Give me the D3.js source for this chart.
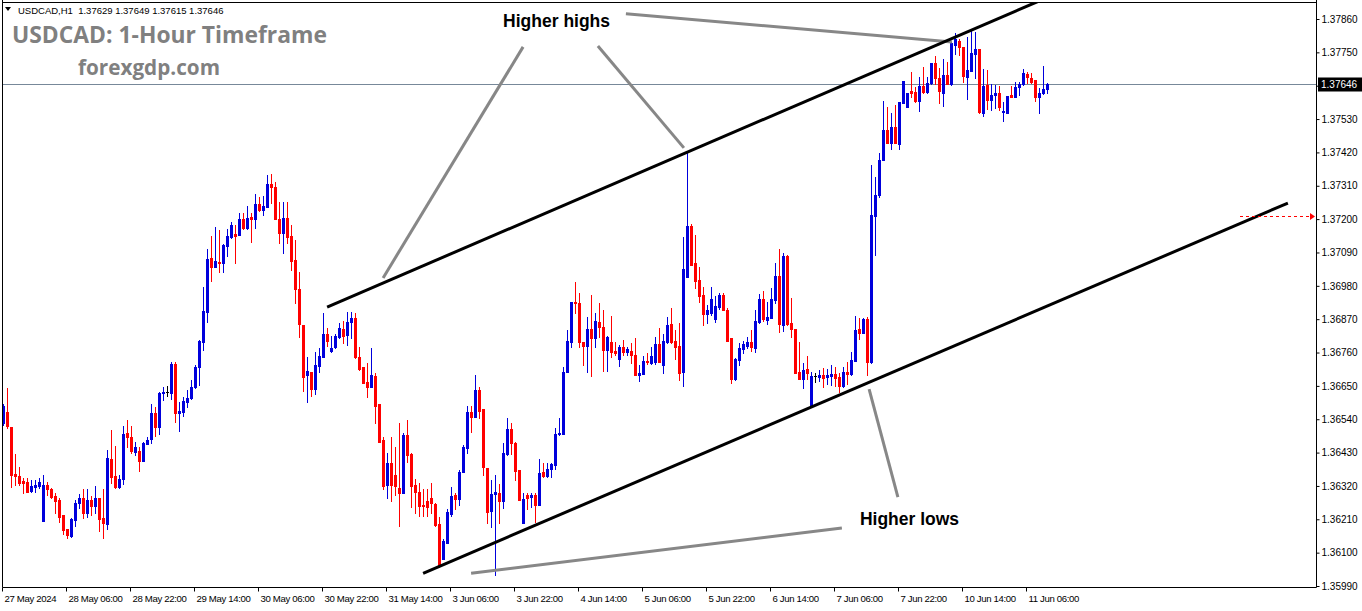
<!DOCTYPE html>
<html><head><meta charset="utf-8">
<script src="https://cdn.jsdelivr.net/npm/d3@7"></script>
<style>body{margin:0;background:#fff}svg{display:block}</style>
</head><body>
<svg id="c" width="1362" height="611"></svg>
<script>
// ---- DATA (hourly bars, USDCAD H1) ----
const opens = [1.36527,1.36563,1.36514,1.36359,1.36352,1.36336,1.36332,1.36303,1.36316,1.36319,1.36204,1.36323,1.36309,1.36286,1.36273,1.36224,1.36177,1.36154,1.36207,1.36263,1.36280,1.36230,1.36273,1.36253,1.36280,1.36214,1.36194,1.36408,1.36352,1.36316,1.36342,1.36494,1.36481,1.36431,1.36435,1.36402,1.36458,1.36474,1.36560,1.36514,1.36626,1.36629,1.36626,1.36722,1.36560,1.36563,1.36596,1.36610,1.36646,1.36712,1.36794,1.36893,1.37072,1.37042,1.37058,1.37055,1.37111,1.37141,1.37151,1.37147,1.37200,1.37171,1.37207,1.37200,1.37250,1.37230,1.37240,1.37316,1.37306,1.37200,1.37154,1.37204,1.37144,1.37065,1.36969,1.36851,1.36686,1.36695,1.36639,1.36715,1.36745,1.36821,1.36765,1.36778,1.36811,1.36837,1.36817,1.36860,1.36874,1.36745,1.36712,1.36662,1.36646,1.36682,1.36590,1.36471,1.36323,1.36395,1.36356,1.36313,1.36296,1.36487,1.36425,1.36323,1.36299,1.36256,1.36270,1.36280,1.36260,1.36194,1.36078,1.36131,1.36227,1.36290,1.36276,1.36365,1.36445,1.36563,1.36547,1.36636,1.36573,1.36379,1.36237,1.36293,1.36296,1.36270,1.36425,1.36507,1.36461,1.36372,1.36197,1.36290,1.36283,1.36290,1.36256,1.36365,1.36352,1.36375,1.36388,1.36491,1.36491,1.36695,1.36794,1.36926,1.36923,1.36794,1.36781,1.36837,1.36808,1.36860,1.36844,1.36768,1.36794,1.36765,1.36738,1.36778,1.36761,1.36765,1.36752,1.36686,1.36689,1.36732,1.36725,1.36728,1.36788,1.36718,1.36794,1.36854,1.36798,1.36781,1.36695,1.37009,1.37177,1.37055,1.36999,1.36950,1.36887,1.36890,1.36870,1.36910,1.36950,1.36900,1.36808,1.36672,1.36735,1.36771,1.36781,1.36794,1.36775,1.36860,1.36936,1.36867,1.36874,1.36933,1.37012,1.36851,1.37078,1.36857,1.36837,1.36695,1.36672,1.36705,1.36580,1.36682,1.36679,1.36686,1.36679,1.36682,1.36689,1.36679,1.36649,1.36695,1.36689,1.36732,1.36837,1.36824,1.36870,1.36728,1.37210,1.37280,1.37395,1.37494,1.37451,1.37504,1.37448,1.37583,1.37570,1.37623,1.37619,1.37590,1.37639,1.37619,1.37649,1.37715,1.37666,1.37616,1.37676,1.37646,1.37775,1.37788,1.37768,1.37669,1.37689,1.37745,1.37761,1.37550,1.37642,1.37593,1.37610,1.37616,1.37553,1.37550,1.37610,1.37603,1.37636,1.37646,1.37679,1.37666,1.37659,1.37603,1.37616,1.37629];
const highs = [1.36590,1.36643,1.36514,1.36425,1.36382,1.36346,1.36346,1.36339,1.36339,1.36346,1.36356,1.36332,1.36313,1.36296,1.36280,1.36224,1.36177,1.36214,1.36273,1.36293,1.36309,1.36309,1.36286,1.36319,1.36280,1.36309,1.36438,1.36504,1.36451,1.36356,1.36517,1.36537,1.36517,1.36464,1.36448,1.36464,1.36481,1.36590,1.36580,1.36629,1.36646,1.36649,1.36728,1.36728,1.36596,1.36613,1.36636,1.36669,1.36718,1.36801,1.36976,1.37101,1.37144,1.37174,1.37164,1.37118,1.37167,1.37190,1.37180,1.37220,1.37220,1.37243,1.37220,1.37283,1.37273,1.37276,1.37345,1.37349,1.37322,1.37256,1.37256,1.37256,1.37180,1.37131,1.37025,1.36851,1.36745,1.36695,1.36761,1.36775,1.36890,1.36841,1.36814,1.36821,1.36857,1.36864,1.36893,1.36893,1.36890,1.36778,1.36712,1.36725,1.36775,1.36692,1.36590,1.36481,1.36428,1.36481,1.36448,1.36527,1.36494,1.36537,1.36428,1.36342,1.36329,1.36309,1.36309,1.36329,1.36263,1.36217,1.36144,1.36243,1.36316,1.36296,1.36372,1.36455,1.36583,1.36583,1.36686,1.36646,1.36573,1.36379,1.36339,1.36356,1.36326,1.36461,1.36544,1.36527,1.36464,1.36372,1.36296,1.36296,1.36296,1.36296,1.36408,1.36395,1.36395,1.36395,1.36511,1.36544,1.36712,1.36834,1.36926,1.36992,1.36956,1.36794,1.36877,1.36950,1.36890,1.36923,1.36900,1.36814,1.36880,1.36794,1.36784,1.36801,1.36778,1.36791,1.36808,1.36718,1.36748,1.36758,1.36778,1.36811,1.36841,1.36821,1.36877,1.36907,1.36834,1.36857,1.37141,1.37418,1.37184,1.37147,1.37042,1.36976,1.36917,1.36976,1.36946,1.36956,1.36956,1.36907,1.36808,1.36742,1.36791,1.36798,1.36811,1.36834,1.36900,1.36953,1.36963,1.36926,1.36973,1.37055,1.37101,1.37088,1.37082,1.36940,1.36837,1.36794,1.36725,1.36748,1.36695,1.36692,1.36702,1.36709,1.36705,1.36718,1.36712,1.36692,1.36712,1.36728,1.36761,1.36880,1.36874,1.36874,1.36877,1.37379,1.37339,1.37418,1.37590,1.37570,1.37550,1.37577,1.37586,1.37656,1.37616,1.37685,1.37636,1.37669,1.37702,1.37669,1.37715,1.37738,1.37699,1.37728,1.37718,1.37784,1.37814,1.37794,1.37768,1.37801,1.37821,1.37817,1.37761,1.37695,1.37692,1.37646,1.37642,1.37639,1.37586,1.37606,1.37639,1.37652,1.37652,1.37695,1.37685,1.37682,1.37659,1.37633,1.37705,1.37649];
const lows = [1.36521,1.36511,1.36316,1.36323,1.36323,1.36296,1.36299,1.36299,1.36299,1.36313,1.36204,1.36290,1.36280,1.36230,1.36200,1.36161,1.36148,1.36151,1.36187,1.36247,1.36214,1.36217,1.36224,1.36230,1.36171,1.36148,1.36177,1.36329,1.36313,1.36313,1.36326,1.36448,1.36428,1.36421,1.36369,1.36402,1.36458,1.36461,1.36484,1.36491,1.36603,1.36616,1.36606,1.36530,1.36501,1.36550,1.36580,1.36606,1.36643,1.36652,1.36768,1.36860,1.36996,1.37042,1.37025,1.37025,1.37078,1.37138,1.37055,1.37147,1.37167,1.37167,1.37124,1.37171,1.37227,1.37213,1.37240,1.37253,1.37200,1.37121,1.37088,1.37121,1.37032,1.36923,1.36811,1.36633,1.36596,1.36616,1.36623,1.36695,1.36745,1.36781,1.36761,1.36775,1.36808,1.36791,1.36784,1.36808,1.36742,1.36702,1.36659,1.36613,1.36646,1.36527,1.36464,1.36309,1.36280,1.36270,1.36290,1.36187,1.36296,1.36398,1.36250,1.36230,1.36220,1.36220,1.36220,1.36230,1.36187,1.36052,1.36078,1.36131,1.36220,1.36243,1.36256,1.36365,1.36428,1.36497,1.36547,1.36544,1.36356,1.36197,1.36184,1.36025,1.36197,1.36247,1.36421,1.36425,1.36339,1.36273,1.36197,1.36243,1.36250,1.36200,1.36256,1.36349,1.36349,1.36349,1.36375,1.36487,1.36491,1.36695,1.36778,1.36890,1.36778,1.36718,1.36695,1.36682,1.36778,1.36811,1.36699,1.36699,1.36745,1.36752,1.36715,1.36752,1.36752,1.36725,1.36686,1.36666,1.36689,1.36722,1.36722,1.36722,1.36728,1.36692,1.36791,1.36791,1.36738,1.36669,1.36649,1.37009,1.37049,1.36973,1.36926,1.36851,1.36857,1.36884,1.36860,1.36903,1.36900,1.36798,1.36659,1.36669,1.36718,1.36758,1.36775,1.36765,1.36761,1.36857,1.36864,1.36854,1.36874,1.36923,1.36827,1.36831,1.36851,1.36811,1.36692,1.36672,1.36643,1.36672,1.36580,1.36662,1.36666,1.36646,1.36656,1.36652,1.36649,1.36629,1.36646,1.36656,1.36686,1.36732,1.36804,1.36824,1.36686,1.36725,1.37082,1.37273,1.37395,1.37451,1.37431,1.37451,1.37431,1.37583,1.37570,1.37603,1.37586,1.37557,1.37616,1.37616,1.37646,1.37646,1.37583,1.37573,1.37646,1.37642,1.37745,1.37741,1.37652,1.37596,1.37689,1.37666,1.37550,1.37540,1.37563,1.37560,1.37567,1.37560,1.37524,1.37550,1.37603,1.37603,1.37610,1.37642,1.37649,1.37649,1.37590,1.37550,1.37613,1.37615];
const closes = [1.36583,1.36517,1.36356,1.36352,1.36329,1.36329,1.36299,1.36319,1.36323,1.36332,1.36323,1.36309,1.36283,1.36270,1.36217,1.36174,1.36158,1.36210,1.36263,1.36280,1.36230,1.36273,1.36253,1.36280,1.36210,1.36197,1.36412,1.36349,1.36316,1.36342,1.36491,1.36481,1.36435,1.36448,1.36402,1.36461,1.36471,1.36560,1.36514,1.36626,1.36629,1.36629,1.36722,1.36560,1.36567,1.36600,1.36610,1.36646,1.36712,1.36798,1.36897,1.37068,1.37042,1.37062,1.37055,1.37115,1.37144,1.37180,1.37144,1.37200,1.37171,1.37204,1.37200,1.37250,1.37230,1.37243,1.37316,1.37306,1.37200,1.37154,1.37204,1.37141,1.37062,1.36969,1.36854,1.36679,1.36699,1.36639,1.36718,1.36748,1.36821,1.36798,1.36775,1.36814,1.36841,1.36814,1.36860,1.36874,1.36745,1.36705,1.36659,1.36646,1.36686,1.36583,1.36464,1.36319,1.36395,1.36323,1.36319,1.36296,1.36487,1.36421,1.36319,1.36299,1.36253,1.36253,1.36250,1.36263,1.36190,1.36055,1.36138,1.36233,1.36286,1.36276,1.36365,1.36448,1.36563,1.36547,1.36636,1.36567,1.36382,1.36233,1.36293,1.36299,1.36270,1.36428,1.36507,1.36461,1.36369,1.36273,1.36276,1.36280,1.36290,1.36256,1.36362,1.36352,1.36375,1.36392,1.36491,1.36494,1.36695,1.36798,1.36926,1.36923,1.36794,1.36781,1.36837,1.36808,1.36864,1.36844,1.36768,1.36811,1.36761,1.36758,1.36778,1.36761,1.36771,1.36752,1.36686,1.36692,1.36732,1.36728,1.36748,1.36788,1.36728,1.36798,1.36851,1.36794,1.36778,1.36692,1.37035,1.37177,1.37049,1.36996,1.36946,1.36887,1.36900,1.36936,1.36913,1.36950,1.36900,1.36798,1.36672,1.36738,1.36775,1.36788,1.36794,1.36778,1.36864,1.36936,1.36870,1.36877,1.36936,1.37012,1.36854,1.37078,1.36854,1.36837,1.36692,1.36672,1.36702,1.36692,1.36682,1.36682,1.36686,1.36676,1.36686,1.36689,1.36676,1.36649,1.36695,1.36689,1.36735,1.36834,1.36824,1.36870,1.36728,1.37213,1.37280,1.37395,1.37494,1.37451,1.37504,1.37451,1.37586,1.37656,1.37616,1.37616,1.37590,1.37639,1.37619,1.37649,1.37715,1.37666,1.37623,1.37676,1.37646,1.37781,1.37794,1.37768,1.37672,1.37692,1.37748,1.37761,1.37553,1.37639,1.37593,1.37610,1.37616,1.37570,1.37557,1.37606,1.37603,1.37636,1.37646,1.37682,1.37669,1.37652,1.37603,1.37616,1.37629,1.37646];

const timeLabels = ["27 May 2024","28 May 06:00","28 May 22:00","29 May 14:00","30 May 06:00","30 May 22:00","31 May 14:00","3 Jun 06:00","3 Jun 22:00","4 Jun 14:00","5 Jun 06:00","5 Jun 22:00","6 Jun 14:00","7 Jun 06:00","7 Jun 22:00","10 Jun 14:00","11 Jun 06:00"];
const timeLabelBars = [0,16,32,48,64,80,96,112,128,144,160,176,192,208,224,240,256];
const priceTicks = [1.35990,1.36100,1.36210,1.36320,1.36430,1.36540,1.36650,1.36760,1.36870,1.36980,1.37090,1.37200,1.37310,1.37420,1.37530,1.37640,1.37750,1.37860];
const priceLabels = ["1.35990","1.36100","1.36210","1.36320","1.36430","1.36540","1.36650","1.36760","1.36870","1.36980","1.37090","1.37200","1.37310","1.37420","1.37530","","1.37750","1.37860"];
const lastBar = {o:1.37629,h:1.37649,l:1.37615,c:1.37646};
const lastPrice = 1.37646;
const alertPrice = 1.37210;
// channel lines: [barIndex, price]
const channelUpper = [[80.9,1.36910],[259.0,1.37920]];
const channelLower = [[104.9,1.36032],[321.1,1.37253]];
// annotation pointer lines: [barIndex, price] pairs
const pointerLines = [
  [[129.9,1.37768],[94.9,1.37006]],
  [[148.6,1.37771],[170.1,1.37435]],
  [[155.6,1.37877],[237.1,1.37784]],
  [[216.4,1.36639],[223.6,1.36283]],
  [[209.6,1.36181],[116.9,1.36032]]
];
const annotations = [
  {text:"Higher highs", bar:124.9, price:1.37834},
  {text:"Higher lows", bar:214.1, price:1.36190}
];

// ---- DRAW ----
const W = 1362, H = 611;
const pL = 2, pR = 1316, pT = 2, pB = 587;
const svg = d3.select("#c");
const n = closes.length;
const x = d3.scaleLinear().domain([0, n - 1]).range([3.5, 3.5 + 4 * (n - 1)]);
const y = d3.scaleLinear().domain([1.35990, 1.37860]).range([586, 19]);
const axisFont = "Liberation Sans, Arial, sans-serif";

svg.append("rect").attr("width", W).attr("height", H).attr("fill", "#fff");
svg.append("defs").append("clipPath").attr("id", "clip")
  .append("rect").attr("x", pL).attr("y", pT).attr("width", pR - pL).attr("height", pB - pT);

const plot = svg.append("g").attr("clip-path", "url(#clip)");

// current price line
plot.append("line")
  .attr("x1", pL).attr("x2", pR)
  .attr("y1", Math.round(y(lastPrice)) + 0.5).attr("y2", Math.round(y(lastPrice)) + 0.5)
  .attr("stroke", "#778899").attr("stroke-width", 1);

// candles
const bars = d3.range(n).map(i => ({i, o: opens[i], h: highs[i], l: lows[i], c: closes[i]}));
const col = d => d.c > d.o ? "#0000dc" : (d.c < d.o ? "#ff0000" : "#000000");
const cg = plot.append("g");
cg.selectAll("rect.w").data(bars).join("rect").attr("class", "w")
  .attr("x", d => Math.floor(x(d.i)))
  .attr("width", 1)
  .attr("y", d => Math.round(y(d.h)))
  .attr("height", d => Math.round(y(d.l)) - Math.round(y(d.h)) + 1)
  .attr("fill", col);
cg.selectAll("rect.b").data(bars).join("rect").attr("class", "b")
  .attr("x", d => Math.floor(x(d.i)) - 1)
  .attr("width", 3)
  .attr("y", d => Math.round(y(Math.max(d.o, d.c))))
  .attr("height", d => Math.max(1, Math.round(y(Math.min(d.o, d.c))) - Math.round(y(Math.max(d.o, d.c))) + 1))
  .attr("fill", col);

// pointer lines (grey)
const line = d3.line().x(p => x(p[0])).y(p => y(p[1]));
pointerLines.forEach(pl => {
  plot.append("path").attr("d", line(pl)).attr("stroke", "#878787").attr("stroke-width", 3).attr("fill", "none");
});
// channel lines (black)
[channelUpper, channelLower].forEach(cl => {
  plot.append("path").attr("d", line(cl)).attr("stroke", "#000").attr("stroke-width", 3).attr("fill", "none");
});

// annotations
annotations.forEach(a => {
  svg.append("text").attr("x", x(a.bar)).attr("y", y(a.price))
    .attr("font-family", "Liberation Sans, Arial, sans-serif").attr("font-weight", "bold")
    .attr("font-size", 17.5).attr("fill", "#000").text(a.text);
});

// alert dashed arrow
const yAl = Math.round(y(alertPrice)) + 0.5;
svg.append("line").attr("x1", 1240).attr("x2", 1311).attr("y1", yAl).attr("y2", yAl)
  .attr("stroke", "#ff0000").attr("stroke-width", 1).attr("stroke-dasharray", "3,3");
svg.append("path").attr("d", `M1310,${yAl-3.5}L1315,${yAl}L1310,${yAl+3.5}Z`).attr("fill", "#ff0000");

// frame
svg.append("path")
  .attr("d", `M${pL + 0.5},0V${pB + 0.5}H${pR + 0.5}V0`)
  .attr("stroke", "#000").attr("fill", "none");
svg.append("line").attr("x1", pL).attr("x2", pR + 1).attr("y1", pT + 0.5).attr("y2", pT + 0.5).attr("stroke", "#000");

// right price axis
const yAxis = d3.axisRight(y).tickValues(priceTicks).tickFormat((d, i) => priceLabels[i]).tickSize(3).tickPadding(2);
const yaG = svg.append("g").attr("transform", `translate(${pR + 0.5},0)`).call(yAxis);
yaG.select(".domain").remove();
yaG.selectAll("text").attr("font-family", axisFont).attr("font-size", 10).attr("fill", "#000");
yaG.selectAll("line").attr("stroke", "#000");

// bottom time axis
const xAxis = d3.axisBottom(x).tickValues(timeLabelBars).tickFormat((d, i) => timeLabels[i]).tickSize(4);
const xaG = svg.append("g").attr("transform", `translate(-1.5,${pB + 0.5})`).call(xAxis);
xaG.select(".domain").remove();
xaG.selectAll("line").attr("stroke", "#000");
xaG.selectAll("text").attr("text-anchor", "start").attr("x", 2).attr("y", 8)
  .attr("font-family", axisFont).attr("font-size", 9.6)
  .attr("letter-spacing", -0.35).attr("fill", "#000");

// current price box
const yLp = Math.round(y(lastPrice)) + 0.5;
svg.append("rect").attr("x", pR + 2).attr("y", yLp - 7).attr("width", 44).attr("height", 14).attr("fill", "#000");
svg.append("text").attr("x", pR + 5).attr("y", yLp).attr("dy", "0.35em")
  .attr("font-family", axisFont).attr("font-size", 10).attr("fill", "#fff")
  .text(d3.format(".5f")(lastPrice));

// header
svg.append("path").attr("d", "M5,7L11,7L8,11Z").attr("fill", "#000");
svg.append("text").attr("x", 18).attr("y", 14).style("white-space", "pre")
  .attr("font-family", axisFont).attr("font-size", 9.5).attr("fill", "#000")
  .text(`USDCAD,H1  ${d3.format(".5f")(lastBar.o)} ${d3.format(".5f")(lastBar.h)} ${d3.format(".5f")(lastBar.l)} ${d3.format(".5f")(lastBar.c)}`);

// titles
svg.append("text").attr("x", 12).attr("y", 43)
  .attr("font-family", "Open Sans, Liberation Sans, sans-serif").attr("font-weight", "bold")
  .attr("font-size", 23).attr("fill", "#808080")
  .attr("textLength", 315).attr("lengthAdjust", "spacingAndGlyphs")
  .text("USDCAD: 1-Hour Timeframe");
svg.append("text").attr("x", 78).attr("y", 75)
  .attr("font-family", "Open Sans, Liberation Sans, sans-serif").attr("font-weight", "bold")
  .attr("font-size", 21).attr("fill", "#808080")
  .attr("textLength", 142).attr("lengthAdjust", "spacingAndGlyphs")
  .text("forexgdp.com");
</script>
</body></html>
